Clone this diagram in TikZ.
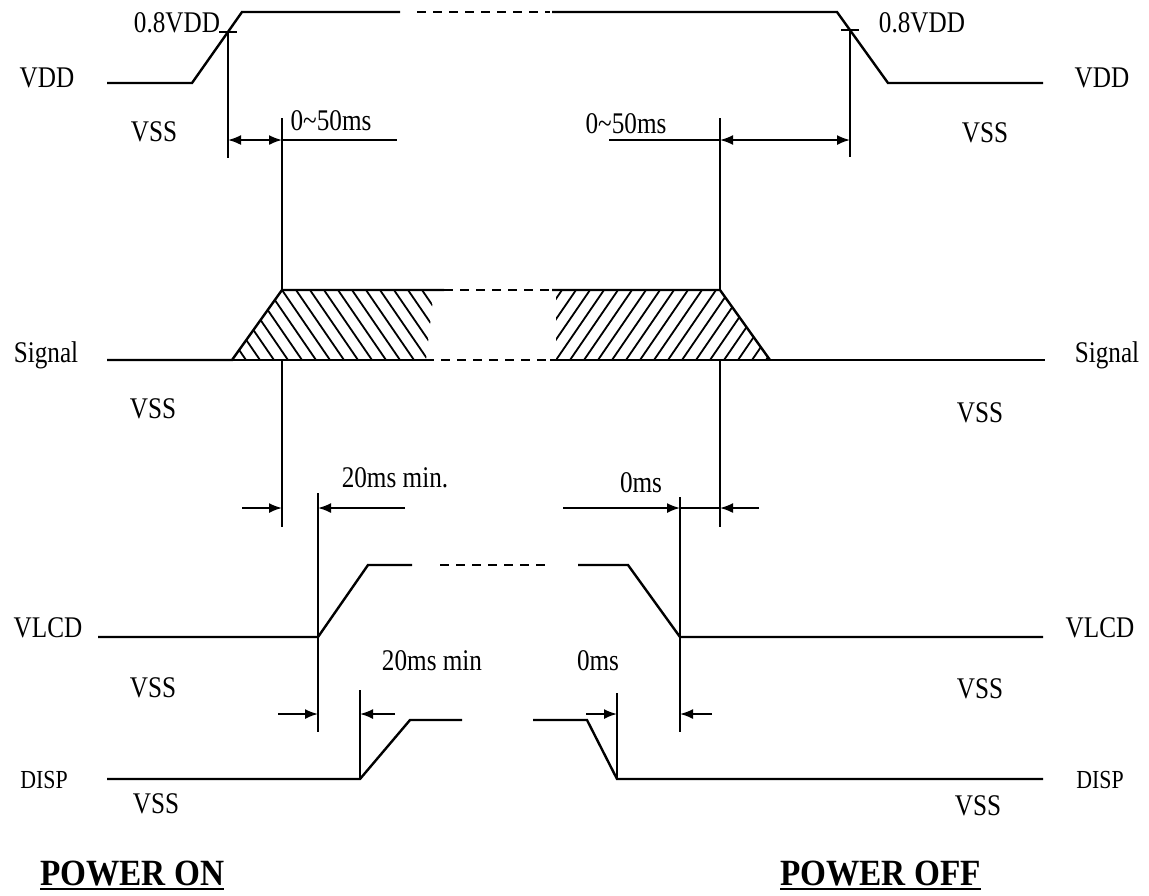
\documentclass[tikz,border=0pt]{standalone}
\usepackage{fontspec}
\setmainfont{Liberation Serif}[FakeStretch=0.84]
\newfontfamily\titlefont{Liberation Serif}[FakeStretch=0.9]
\usetikzlibrary{arrows.meta}

\begin{document}
\begin{tikzpicture}[
    x=1pt, y=-1pt,
    >={Latex[length=13pt, width=10pt]},
    wave/.style={line width=2.4pt},
    guide/.style={line width=1.8pt},
    dots/.style={line width=2.2pt, dash pattern=on 9pt off 7pt},
    hatch/.style={line width=1.8pt},
    lbl/.style={font=\fontsize{30}{32}\selectfont, inner sep=0pt, anchor=base},
    sml/.style={font=\fontsize{26}{28}\selectfont, inner sep=0pt, anchor=base},
    ttl/.style={font=\titlefont\bfseries\fontsize{37}{40}\selectfont,
                inner sep=0pt, anchor=base west},
  ]
  \useasboundingbox (0,0) rectangle (1149,895);

  % ══════════════════════════════════════════════════════
  % VDD
  % ══════════════════════════════════════════════════════
  \coordinate (vddOn) at (192,83);
  \coordinate (vddHi) at (242,12);
  \coordinate (vddFa) at (837,12);
  \coordinate (vddLo) at (888,83);

  \draw[wave] (107,83) -- (vddOn) -- (vddHi) -- (400,12);
  \draw[dots] (417,12) -- (550,12);
  \draw[wave] (552,12) -- (vddFa) -- (vddLo) -- (1043,83);

  % 0.8VDD ticks
  \draw[guide] (219,32) -- (237,32);
  \draw[guide] (841,30) -- (859,30);

  \node[lbl] (vddL)  at (47,87)   {VDD};
  \node[lbl] (vddR)  at (1102,87) {VDD};
  \node[lbl] (p8L)   at (177,32)  {0.8VDD};
  \node[lbl] (p8R)   at (922,32)  {0.8VDD};
  \node[lbl] (vss1L) at (154,141) {VSS};
  \node[lbl] (vss1R) at (985,142) {VSS};

  % ══════════════════════════════════════════════════════
  % Signal (hatched bus)
  % ══════════════════════════════════════════════════════
  \begin{scope}
    \clip (232,360) -- (282,290) -- (434,290) -- (426,360) -- cycle;
    \foreach \x in {170,184,...,450}
      \draw[hatch] (\x,290) -- ++(48,70);
  \end{scope}
  \begin{scope}
    \clip (556,290) -- (720,290) -- (770,360) -- (556,360) -- cycle;
    \foreach \x in {500,514,...,780}
      \draw[hatch] (\x,360) -- ++(48,-70);
  \end{scope}

  \draw[wave] (107,360) -- (232,360) -- (282,290) -- (444,290);
  \draw[wave] (232,360) -- (425,360);
  \draw[dots] (444,290) -- (551,290);
  \draw[dots] (425,360) -- (550,360);
  \draw[wave] (552,290) -- (720,290) -- (770,360);
  \draw[wave] (550,360) -- (1045,360);

  \node[lbl] (sigL)  at (46,362)   {Signal};
  \node[lbl] (sigR)  at (1107,362) {Signal};
  \node[lbl] (vss2L) at (153,418)  {VSS};
  \node[lbl] (vss2R) at (980,422)  {VSS};

  % ══════════════════════════════════════════════════════
  % VLCD
  % ══════════════════════════════════════════════════════
  \draw[wave] (98,637) -- (318,637) -- (368,565) -- (412,565);
  \draw[dots] (440,565) -- (548,565);
  \draw[wave] (578,565) -- (628,565) -- (680,637) -- (1043,637);

  \node[lbl] (lcdL)  at (48,637)   {VLCD};
  \node[lbl] (lcdR)  at (1100,637) {VLCD};
  \node[lbl] (vss3L) at (153,697)  {VSS};
  \node[lbl] (vss3R) at (980,698)  {VSS};

  % ══════════════════════════════════════════════════════
  % DISP
  % ══════════════════════════════════════════════════════
  \draw[wave] (107,779) -- (360,779) -- (410,720) -- (462,720);
  \draw[wave] (533,720) -- (587,720) -- (617,779) -- (1043,779);

  \node[sml] (dispL) at (44,788)   {DISP};
  \node[sml] (dispR) at (1100,788) {DISP};
  \node[lbl] (vss4L) at (156,813)  {VSS};
  \node[lbl] (vss4R) at (978,815)  {VSS};

  % ══════════════════════════════════════════════════════
  % Timing guides and dimension arrows
  % ══════════════════════════════════════════════════════
  \draw[guide] (228,32) -- (228,158);
  \draw[guide] (282,118) -- (282,290) (282,360) -- (282,527);
  \draw[guide] (720,118) -- (720,290) (720,360) -- (720,527);
  \draw[guide] (850,30) -- (850,157);
  \draw[guide] (318,493) -- (318,732);
  \draw[guide] (680,497) -- (680,732);
  \draw[guide] (360,690) -- (360,779);
  \draw[guide] (617,693) -- (617,779);

  % VDD to signal
  \draw[guide, <->] (228,140) -- (282,140);
  \draw[guide] (282,140) -- (397,140);
  \draw[guide] (609,140) -- (720,140);
  \draw[guide, <->] (720,140) -- (850,140);
  \node[lbl] (t50L) at (331,130) {0\textasciitilde50ms};
  \node[lbl] (t50R) at (626,133) {0\textasciitilde50ms};

  % signal to VLCD
  \draw[guide, ->] (242,508) -- (282,508);
  \draw[guide, ->] (405,508) -- (318,508);
  \draw[guide, ->] (563,508) -- (680,508);
  \draw[guide] (680,508) -- (720,508);
  \draw[guide, ->] (759,508) -- (720,508);
  \node[lbl] (t20a) at (395,487) {20ms min.};
  \node[lbl] (t0a)  at (641,492) {0ms};

  % VLCD to DISP
  \draw[guide, ->] (278,714) -- (318,714);
  \draw[guide, ->] (395,714) -- (360,714);
  \draw[guide, ->] (586,714) -- (617,714);
  \draw[guide, ->] (712,714) -- (680,714);
  \node[lbl] (t20b) at (432,670) {20ms min};
  \node[lbl] (t0b)  at (598,670) {0ms};

  % ══════════════════════════════════════════════════════
  % Titles
  % ══════════════════════════════════════════════════════
  \node[ttl] (pon)  at (40,885)  {POWER ON};
  \node[ttl] (poff) at (780,885) {POWER OFF};
  \draw[line width=2.6pt] ([yshift=-4pt]pon.base west) -- ([yshift=-4pt]pon.base east);
  \draw[line width=2.6pt] ([yshift=-4pt]poff.base west) -- ([yshift=-4pt]poff.base east);

\end{tikzpicture}
\end{document}
